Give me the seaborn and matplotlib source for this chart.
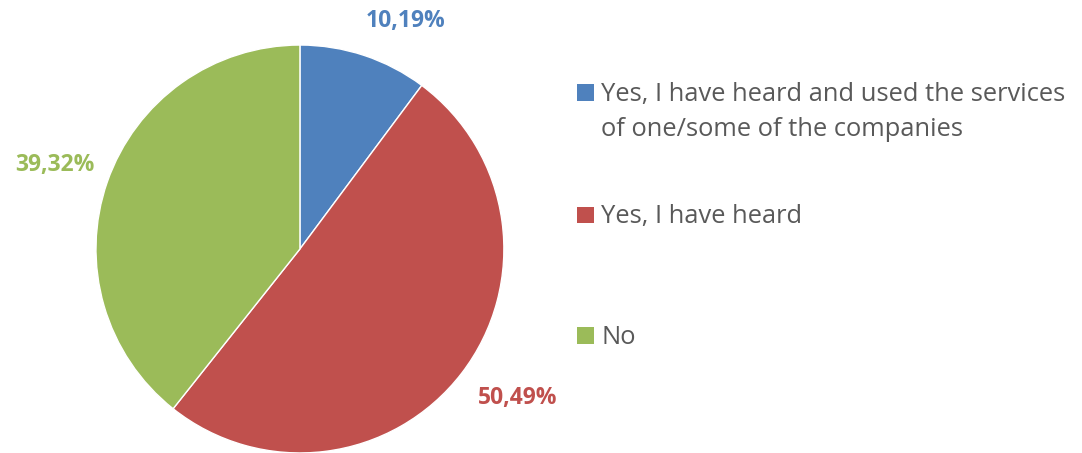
import matplotlib
matplotlib.use("Agg")
import matplotlib.pyplot as plt
import seaborn as sns
from matplotlib.patches import Rectangle

sns.set_theme(style="white")
plt.rcParams['font.family'] = ['Open Sans', 'DejaVu Sans']

# data
categories = ["Yes, I have heard and used the services\nof one/some of the companies",
              "Yes, I have heard",
              "No"]
values = [10.19, 50.49, 39.32]
value_labels = ["10,19%", "50,49%", "39,32%"]
colors = ["#4F81BD", "#C0504D", "#9BBB59"]

W, H = 1082, 453
fig = plt.figure(figsize=(W / 100, H / 100), dpi=100)
ax = fig.add_axes([0.0887, 0.0, 0.377, 0.9007])

wedges, _ = ax.pie(values, colors=colors, startangle=90, counterclock=False,
                   radius=1, wedgeprops=dict(linewidth=1, edgecolor="white"))
ax.set_xlim(-1, 1)
ax.set_ylim(-1, 1)
ax.set_aspect("equal")
ax.axis("off")

# percentage labels (outside end)
label_pos = [(0.52, 1.12), (1.07, -0.73), (-1.20, 0.41)]
for (x, y), txt, c in zip(label_pos, value_labels, colors):
    ax.text(x, y, txt, color=c, fontsize=16.5, fontweight="bold",
            ha="center", va="center", clip_on=False)

# legend drawn by hand so the marker lines up with the first text line
leg_y = [92, 215, 335]   # pixel rows from the top
line_gap = 36
for lab, c, py in zip(categories, colors, leg_y):
    fig.patches.append(Rectangle((577 / W, 1 - (py + 8.5) / H), 17 / W, 17 / H,
                                 transform=fig.transFigure, facecolor=c,
                                 edgecolor="none"))
    for i, line in enumerate(lab.split("\n")):
        fig.text(601 / W, 1 - (py + 2 + i * line_gap) / H, line, fontsize=18.4,
                 color="#595959", ha="left", va="center")

fig.savefig("out.png", dpi=100)
